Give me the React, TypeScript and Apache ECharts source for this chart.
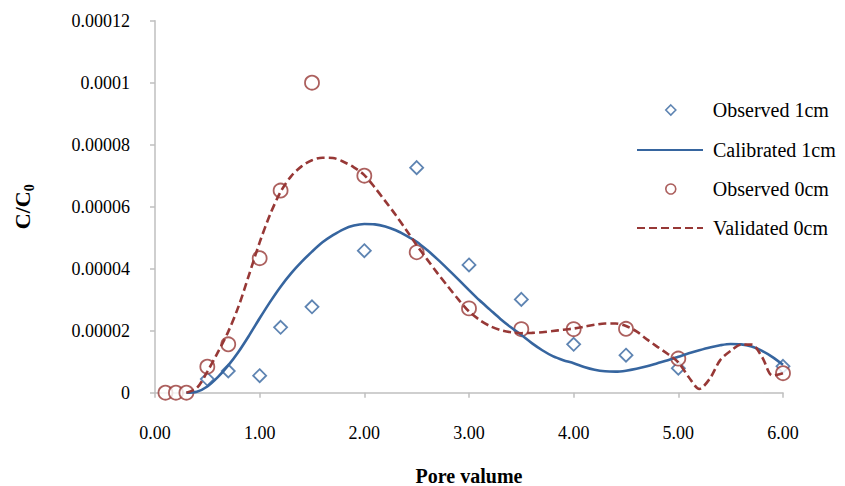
import React, { useEffect, useRef } from "react";
import * as echarts from "echarts";

// Observed concentrations, 0 cm depth
const poreVolume0cm = [0.1, 0.2, 0.3, 0.5, 0.7, 1.0, 1.2, 1.5, 2.0, 2.5, 3.0, 3.5, 4.0, 4.5, 5.0, 6.0];
const observed0cm = [0, 0, 0, 8.4e-6, 1.56e-5, 4.34e-5, 6.52e-5, 1.0e-4, 7.0e-5, 4.53e-5, 2.72e-5, 2.05e-5, 2.05e-5, 2.06e-5, 1.1e-5, 6.3e-6];

// Observed concentrations, 1 cm depth
const poreVolume1cm = [0.5, 0.7, 1.0, 1.2, 1.5, 2.0, 2.5, 3.0, 3.5, 4.0, 4.5, 5.0, 6.0];
const observed1cm = [4.4e-6, 7.0e-6, 5.5e-6, 2.11e-5, 2.77e-5, 4.58e-5, 7.26e-5, 4.12e-5, 3.01e-5, 1.56e-5, 1.21e-5, 7.9e-6, 8.5e-6];

// Model curves sampled along pore volume
const curvePoreVolume = [
  0.3, 0.4, 0.5, 0.6, 0.7, 0.8, 0.9, 1.0, 1.1, 1.2, 1.3, 1.4, 1.5, 1.6, 1.7, 1.8, 1.9, 2.0,
  2.1, 2.2, 2.3, 2.4, 2.5, 2.6, 2.7, 2.8, 2.9, 3.0, 3.1, 3.2, 3.3, 3.4, 3.5, 3.6, 3.7, 3.8,
  3.9, 4.0, 4.1, 4.2, 4.3, 4.4, 4.5, 4.6, 4.7, 4.8, 4.9, 5.0, 5.1, 5.2, 5.3, 5.4, 5.5, 5.6,
  5.7, 5.8, 5.9, 6.0,
];
const calibrated1cm = [
  0, 0.3e-6, 2.0e-6, 5.0e-6, 8.8e-6, 1.33e-5, 1.85e-5, 2.4e-5, 2.93e-5, 3.42e-5, 3.85e-5, 4.22e-5,
  4.55e-5, 4.85e-5, 5.08e-5, 5.27e-5, 5.39e-5, 5.44e-5, 5.43e-5, 5.36e-5, 5.24e-5, 5.07e-5,
  4.87e-5, 4.6e-5, 4.3e-5, 3.98e-5, 3.65e-5, 3.31e-5, 2.98e-5, 2.68e-5, 2.38e-5, 2.11e-5,
  1.86e-5, 1.6e-5, 1.37e-5, 1.18e-5, 1.05e-5, 9.5e-6, 8.3e-6, 7.4e-6, 6.9e-6, 6.8e-6, 7.1e-6,
  7.7e-6, 8.5e-6, 9.5e-6, 1.05e-5, 1.16e-5, 1.27e-5, 1.37e-5, 1.46e-5, 1.53e-5, 1.57e-5,
  1.56e-5, 1.49e-5, 1.35e-5, 1.15e-5, 9.0e-6,
];
const validated0cm = [
  0, 1.5e-6, 6.8e-6, 1.3e-5, 1.97e-5, 2.8e-5, 3.82e-5, 4.85e-5, 5.75e-5, 6.48e-5, 6.98e-5, 7.3e-5,
  7.5e-5, 7.58e-5, 7.57e-5, 7.45e-5, 7.27e-5, 7.02e-5, 6.62e-5, 6.18e-5, 5.73e-5, 5.25e-5,
  4.76e-5, 4.3e-5, 3.85e-5, 3.42e-5, 3.0e-5, 2.62e-5, 2.35e-5, 2.15e-5, 2.02e-5, 1.95e-5,
  1.92e-5, 1.93e-5, 1.95e-5, 1.99e-5, 2.03e-5, 2.07e-5, 2.13e-5, 2.19e-5, 2.23e-5, 2.23e-5,
  2.15e-5, 1.98e-5, 1.72e-5, 1.48e-5, 1.25e-5, 9.8e-6, 5.0e-6, 1.2e-6, 4.5e-6, 1.05e-5,
  1.35e-5, 1.55e-5, 1.55e-5, 1.15e-5, 5.5e-6, 6.3e-6,
];

const xTicks = [0, 1, 2, 3, 4, 5, 6];
const legendNames = ["Observed 1cm", "Calibrated 1cm", "Observed 0cm", "Validated 0cm"];

const BLUE = "#36659F";
const RED = "#973836";
const AXIS_GREY = "#BFBFBF";
const SERIF = "'Liberation Serif', 'Times New Roman', serif";

const pairs = (xs: number[], ys: number[]) => xs.map((x, i) => [x, ys[i]]);

const legendText = (padLeft: number) => ({
  fontFamily: SERIF,
  fontSize: 20,
  color: "#000",
  lineHeight: 20,
  padding: [0, 0, 0, padLeft],
});

// One legend per row: marker rows use a small outlined icon, line rows a long stroke
const legendRow = (index: number, color: string, isLine: boolean) => ({
  orient: "vertical",
  padding: 0,
  left: isLine ? 636 : 665,
  top: [100, 140, 179, 218][index],
  itemWidth: isLine ? 66 : 10,
  itemHeight: 10,
  selectedMode: false,
  itemStyle: isLine
    ? { opacity: 0 }
    : { color: "#ffffff", borderColor: color, borderWidth: 1.6 },
  textStyle: legendText(isLine ? 5 : 32),
  data: [legendNames[index]],
});

export default function App() {
  const ref = useRef<HTMLDivElement>(null);

  useEffect(() => {
    document.body.style.margin = "0";
    if (!ref.current) return;
    const chart = echarts.init(ref.current, null, { renderer: "svg" });

    chart.setOption({
      animation: false,
      backgroundColor: "#ffffff",
      textStyle: { fontFamily: SERIF },
      grid: {
        left: 155,
        right: 62,
        top: 20.7,
        bottom: 93.3,
        containLabel: false,
        outerBoundsMode: "none",
      },
      legend: [
        legendRow(0, BLUE, false),
        legendRow(1, BLUE, true),
        legendRow(2, RED, false),
        legendRow(3, RED, true),
      ],
      xAxis: {
        type: "value",
        min: xTicks[0],
        max: xTicks[xTicks.length - 1],
        interval: 1,
        name: "Pore valume",
        nameLocation: "middle",
        nameGap: 73,
        nameTextStyle: { fontFamily: SERIF, fontSize: 20, fontWeight: "bold", color: "#000" },
        axisLine: { show: true, lineStyle: { color: AXIS_GREY, width: 1.5 } },
        axisTick: { show: true, length: 5, lineStyle: { color: AXIS_GREY, width: 1.5 } },
        axisLabel: {
          fontFamily: SERIF,
          fontSize: 18,
          color: "#000",
          margin: 31,
          formatter: (v: number) => v.toFixed(2),
        },
        splitLine: { show: false },
      },
      yAxis: {
        type: "value",
        min: 0,
        max: 0.00012,
        interval: 0.00002,
        name: "{a|C/C}{b|0}",
        nameLocation: "middle",
        nameRotate: 90,
        nameGap: 119,
        nameTextStyle: {
          rich: {
            a: { fontFamily: SERIF, fontSize: 22, fontWeight: "bold", color: "#000", lineHeight: 28 },
            b: {
              fontFamily: SERIF,
              fontSize: 14,
              fontWeight: "bold",
              color: "#000",
              lineHeight: 14,
              verticalAlign: "bottom",
            },
          },
        },
        axisLine: { show: true, lineStyle: { color: AXIS_GREY, width: 1.5 } },
        axisTick: { show: true, length: 5, lineStyle: { color: AXIS_GREY, width: 1.5 } },
        axisLabel: {
          fontFamily: SERIF,
          fontSize: 18,
          color: "#000",
          margin: 25,
          formatter: (v: number) => (v === 0 ? "0" : String(parseFloat(v.toFixed(6)))),
        },
        splitLine: { show: false },
      },
      series: [
        {
          name: "Observed 1cm",
          type: "scatter",
          symbol: "diamond",
          symbolSize: 13,
          data: pairs(poreVolume1cm, observed1cm),
          itemStyle: { color: "#ffffff", borderColor: BLUE, borderWidth: 1.8 },
        },
        {
          name: "Calibrated 1cm",
          type: "line",
          smooth: 0.3,
          showSymbol: false,
          symbol: "none",
          data: pairs(curvePoreVolume, calibrated1cm),
          itemStyle: { color: BLUE },
          lineStyle: { color: BLUE, width: 2.6 },
        },
        {
          name: "Observed 0cm",
          type: "scatter",
          symbol: "circle",
          symbolSize: 14,
          data: pairs(poreVolume0cm, observed0cm),
          itemStyle: { color: "#ffffff", borderColor: RED, borderWidth: 1.8 },
        },
        {
          name: "Validated 0cm",
          type: "line",
          smooth: 0.3,
          showSymbol: false,
          symbol: "none",
          data: pairs(curvePoreVolume, validated0cm),
          itemStyle: { color: RED },
          lineStyle: { color: RED, width: 2.6, type: [8, 4] },
        },
      ],
    });

    return () => chart.dispose();
  }, []);

  return <div ref={ref} style={{ width: 845, height: 486 }} />;
}
